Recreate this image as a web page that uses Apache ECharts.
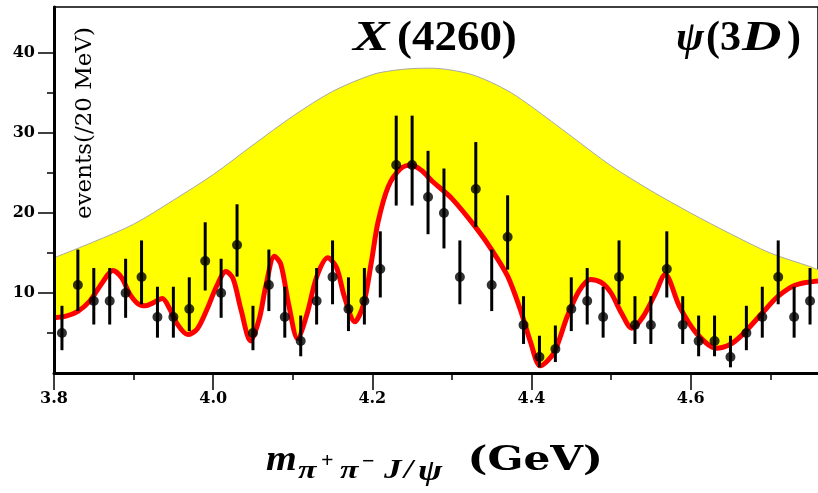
<!DOCTYPE html>
<html>
<head>
<meta charset="utf-8">
<script src="https://cdn.jsdelivr.net/npm/echarts@6/dist/echarts.min.js"></script>
<style>html,body{margin:0;padding:0;background:#fff;}#c{width:818px;height:493px;}</style>
</head>
<body>
<div id="c"></div>
<script>
// bin centres (GeV) and event counts
const binX = [3.81,3.83,3.85,3.87,3.89,3.91,3.93,3.95,3.97,3.99,4.01,4.03,4.05,4.07,4.09,4.11,4.13,4.15,4.17,4.19,4.21,4.23,4.25,4.27,4.29,4.31,4.33,4.35,4.37,4.39,4.41,4.43,4.45,4.47,4.49,4.51,4.53,4.55,4.57,4.59,4.61,4.63,4.65,4.67,4.69,4.71,4.73,4.75];
const counts = [5,11,9,9,10,12,7,7,8,14,10,16,5,11,7,4,9,12,8,9,13,26,26,22,20,12,23,11,17,6,2,3,8,9,7,12,6,6,13,6,4,4,2,5,7,12,7,9];
const errLo = [2.85,7.74,6.06,6.06,6.90,8.59,4.42,4.42,5.24,10.31,6.90,12.05,2.85,7.74,4.42,2.09,6.06,8.59,5.24,6.06,9.44,20.93,20.93,17.35,15.57,8.59,18.24,7.74,12.92,3.63,0.71,1.37,5.24,6.06,4.42,8.59,3.63,3.63,9.44,3.63,2.09,2.09,0.71,2.85,4.42,8.59,4.42,6.06];
const errHi = [8.40,15.43,13.12,13.12,14.28,16.57,10.78,10.78,11.96,18.84,14.28,21.09,8.40,15.43,10.78,7.18,13.12,16.57,11.96,13.12,17.71,32.17,32.17,27.77,25.56,16.57,28.87,15.43,22.21,9.60,4.66,5.94,11.96,13.12,10.78,16.57,9.60,9.60,17.71,9.60,7.18,7.18,4.66,8.40,10.78,16.57,10.78,13.12];
// X(4260) line shape (yellow envelope)
const envX = [3.80,3.85,3.90,3.95,4.00,4.05,4.10,4.15,4.20,4.225,4.25,4.275,4.30,4.325,4.35,4.375,4.40,4.45,4.50,4.55,4.60,4.65,4.70,4.75,4.76];
const envY = [14.4,16.4,18.6,21.6,24.8,28.5,32.1,35.2,37.3,37.8,38.05,38.1,37.85,37.3,36.3,35.0,33.3,29.6,25.9,22.8,20.0,17.4,15.0,13.3,12.9];
// psi(3D) fit curve (red)
const fitX = [3.800,3.815,3.830,3.845,3.860,3.874,3.885,3.895,3.905,3.915,3.925,3.936,3.945,3.955,3.968,3.980,3.992,4.005,4.016,4.025,4.035,4.047,4.058,4.066,4.077,4.085,4.095,4.106,4.118,4.130,4.144,4.155,4.165,4.178,4.189,4.199,4.207,4.220,4.235,4.249,4.262,4.275,4.300,4.330,4.350,4.370,4.386,4.399,4.411,4.428,4.445,4.460,4.474,4.488,4.500,4.513,4.526,4.540,4.555,4.568,4.586,4.607,4.632,4.650,4.665,4.690,4.710,4.732,4.760];
const fitY = [6.9,7.1,7.7,9.0,11.2,12.8,11.9,9.9,8.7,8.4,8.8,9.3,8.1,6.1,4.8,5.5,7.9,11.0,12.7,11.8,7.9,4.0,6.8,10.8,14.6,13.6,8.5,4.3,7.4,12.0,14.4,13.2,9.5,6.4,8.6,14.0,18.8,23.3,25.5,26.0,25.3,24.0,21.8,18.2,15.4,12.1,7.9,3.8,0.9,2.5,7.1,10.3,11.7,11.3,10.0,7.5,5.6,7.0,9.8,12.3,8.3,5.0,3.1,3.6,4.8,7.5,9.6,11.0,11.5];
// tick labels
const xMajor = [3.8,4.0,4.2,4.4,4.6];
const xMinor = [3.9,4.1,4.3,4.5,4.7];
const yMajor = [10,20,30,40];
const yMinor = [5,15,25,35];

const chart = echarts.init(document.getElementById('c'), null, {renderer:'canvas'});
const labelFont = {fontFamily:'"DejaVu Serif"', fontWeight:'bold', fontSize:16, color:'#000'};
const LS = '"Liberation Serif"';
function txt(x, y, s, font, align, sx) {
  return {type:'text', x:x, y:y, z:20, scaleX:sx||1, style:{text:s, font:font, fill:'#000', align:align||'left', verticalAlign:'middle'}};
}
const option = {
  animation:false,
  backgroundColor:'#fff',
  grid:{left:54, top:7, width:768, height:366, show:true, borderColor:'#000', borderWidth:1.5, backgroundColor:'transparent'},
  xAxis:[
    {type:'value', min:3.8, max:4.76, position:'bottom', z:10,
     axisLine:{show:true, onZero:false, lineStyle:{color:'#000', width:3}},
     axisTick:{show:true, customValues:xMajor, length:17, lineStyle:{color:'#000', width:1.5}},
     axisLabel:Object.assign({customValues:xMajor, margin:18, formatter:v=>v.toFixed(1)}, labelFont),
     splitLine:{show:false}},
    {type:'value', min:3.8, max:4.76, position:'bottom', z:10,
     axisLine:{show:false, onZero:false},
     axisTick:{show:true, customValues:xMinor, length:7, lineStyle:{color:'#000', width:1.5}},
     axisLabel:{show:false}, splitLine:{show:false}}
  ],
  yAxis:[
    {type:'value', min:0, max:45.75, position:'left', z:10,
     axisLine:{show:true, onZero:false, lineStyle:{color:'#000', width:3}},
     axisTick:{show:true, customValues:yMajor, length:16, lineStyle:{color:'#000', width:1.5}},
     axisLabel:Object.assign({customValues:yMajor, margin:19}, labelFont),
     splitLine:{show:false}},
    {type:'value', min:0, max:45.75, position:'left', z:10,
     axisLine:{show:false, onZero:false},
     axisTick:{show:true, customValues:yMinor, length:7, lineStyle:{color:'#000', width:1.5}},
     axisLabel:{show:false}, splitLine:{show:false}}
  ],
  series:[
    {type:'line', xAxisIndex:0, yAxisIndex:0, z:1, data:envX.map((x,i)=>[x,envY[i]]), smooth:0.3, symbol:'none',
     lineStyle:{color:'#a8a8a8', width:1}, areaStyle:{color:'#ffff00', opacity:1}},
    {type:'line', xAxisIndex:0, yAxisIndex:0, z:2, data:fitX.map((x,i)=>[x,fitY[i]]), smooth:0.3, symbol:'none',
     lineStyle:{color:'#ff0000', width:5, join:'round'}, areaStyle:{color:'#ffffff', opacity:1}},
    {type:'custom', xAxisIndex:0, yAxisIndex:0, z:3, data:binX.map((x,i)=>[x,errLo[i],errHi[i]]),
     encode:{x:0, y:[1,2]},
     renderItem:(params, api)=>{
       const a = api.coord([api.value(0), api.value(1)]);
       const b = api.coord([api.value(0), api.value(2)]);
       return {type:'line', shape:{x1:a[0], y1:a[1], x2:b[0], y2:b[1]}, style:{stroke:'#000', lineWidth:3}};
     }},
    {type:'scatter', xAxisIndex:0, yAxisIndex:0, z:4, data:binX.map((x,i)=>[x,counts[i]]), symbol:'circle', symbolSize:10,
     itemStyle:{color:'#000'}}
  ],
  graphic:[
    txt(353, 39, 'X', 'italic bold 42px ' + LS, 'left', 1.3),
    txt(397, 39, '(4260)', 'bold 42px ' + LS, 'left', 1.07),
    txt(676, 39, 'ψ', 'italic bold 42px ' + LS),
    txt(706, 39, '(3', 'bold 42px ' + LS),
    txt(742, 39, 'D', 'italic bold 42px ' + LS, 'left', 1.3),
    txt(787, 39, ')', 'bold 42px ' + LS),
    {type:'text', x:85, y:123, rotation:Math.PI/2, z:20, style:{text:'events(/20 MeV)', font:'23px "DejaVu Serif"', fill:'#000', align:'center', verticalAlign:'middle'}},
    txt(266, 461, 'm', 'italic bold 36px ' + LS, 'left', 1.1),
    txt(298, 471, 'π', 'italic bold 26px ' + LS, 'left', 1.3),
    txt(321, 461, '+', 'bold 22px ' + LS),
    txt(340, 471, 'π', 'italic bold 26px ' + LS, 'left', 1.3),
    txt(362, 462, '−', 'bold 22px ' + LS),
    txt(384, 471, 'J', 'italic bold 27px ' + LS, 'left', 1.3),
    txt(404, 471, '/', 'italic bold 27px ' + LS, 'left', 1.2),
    txt(418, 473, 'ψ', 'italic bold 29px ' + LS, 'left', 1.25),
    txt(603, 461, '(GeV)', 'bold 34px "DejaVu Serif"', 'right', 1.24)
  ]
};
chart.setOption(option);
</script>
</body>
</html>
